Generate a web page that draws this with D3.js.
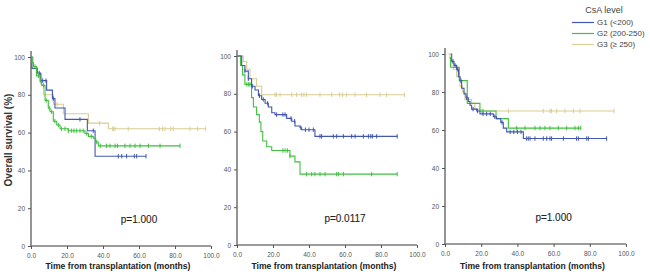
<!DOCTYPE html>
<html>
<head>
<meta charset="utf-8">
<script src="https://cdn.jsdelivr.net/npm/d3@7"></script>
<style>
  body { margin: 0; background: #fff; }
  svg { display: block; font-family: "Liberation Sans", Arial, sans-serif; }
</style>
</head>
<body>
<div id="chart"></div>
<script>
// survival curves: [month, survival %] at each drop
const p1Blue = [[0,100],[0.5,94],[3.5,91.5],[5.4,87.5],[8.7,82.5],[11.9,78],[13.3,73],[18.9,67],[31.3,61],[35.6,47.5],[63.9,47.5]];
const p1Green = [[0,100],[0.6,97],[1.3,95],[3.1,90],[5,87],[5.9,85],[7.8,77],[9.6,73],[10.6,71],[12.4,66],[14.3,64],[16.1,62],[20.7,61],[30,59.5],[31.9,58],[34.6,57],[35.9,55],[37.4,53],[82.8,53]];
const p1Tan = [[0,100],[1.3,95],[3.1,91],[5.9,85],[6.9,80],[12.4,75],[18,70],[31.9,65],[43,62],[97,62]];
const p2Blue = [[0,100],[2.6,95],[4.4,92],[6.3,88],[8.1,84],[10,82],[11.9,79],[13.7,77],[15.6,75],[17.4,73],[19.3,70],[21.1,69],[27.6,67],[30.4,65.5],[32.2,63],[35,62],[35.9,61],[43.3,57.5],[89,57.5]];
const p2Green = [[0,100],[2,95],[3.1,90],[4.4,85],[8.1,78],[9.1,73],[10.9,69],[12.4,65],[13.3,60],[14.3,55],[16.5,52],[19.3,50],[29.4,47],[32.2,44],[35,37.5],[89,37.5]];
const p2Tan = [[0,100],[3.5,97],[5.4,93],[7.2,88],[10.9,84],[13.7,79.5],[93,79.5]];
const p3Blue = [[3.1,100],[3.7,96],[5,94],[6.4,92],[7.4,88],[8.3,86],[9.2,82],[10.5,79],[11.6,77],[12.9,75],[13.8,73],[14.7,71],[17.5,70],[19.3,68.5],[26.7,67],[28.5,66],[30.8,64],[32.2,61],[34.1,59],[43.3,55.5],[89.3,55.5]];
const p3Green = [[2.4,98],[3.1,93],[7.9,86],[12.3,74],[19.3,70],[28.2,66],[35,61],[75,61]];
const p3Tan = [[1.8,100],[2.8,97],[4.6,92],[6.4,88],[8.3,83],[9.7,80],[11,76],[14.7,74],[16.5,71],[19.3,70],[93.4,70]];

// censored observations (months)
const p1BlueCens = [4.6,6.5,8.3,12.4,27.2,34.6,48.5,50.4,53.1,57.4,58.7,63.9];
const p1GreenCens = [2.2,4.2,5.5,7,8.5,10.1,11.5,13.3,15.2,17,18.9,20.7,22.6,23.9,25.4,27.2,29,31,33.5,36.5,38.5,42,43.9,46.7,48,52.2,55,57.8,60.6,65.2,71.7,82.8];
const p1TanCens = [14.5,38,45.4,45.7,46.7,54,71.3,73.1,74.4,77.6,79,88.3,92.6,97];
const p2BlueCens = [4.4,6.3,8.5,12.5,14.6,17,22,25.5,26.7,30,32,35.5,38,40,42.4,46.1,47,53.5,55.4,59.1,63.7,65.6,70.2,73,74.3,75.2,77.6,89];
const p2GreenCens = [5.5,6.5,7.2,25.5,26.7,28,29.4,38.7,41.5,43.3,46.1,48.9,55.4,56.3,59.1,74.8,89];
const p2TanCens = [21.1,22,23.9,30.4,33.1,35.9,37.2,38.7,46.1,52.6,56.9,58.7,60.9,65.6,72,79.4,83.1,93];
const p3BlueCens = [4.4,5.6,7,8.8,12,15.5,18,21,23,25,27.5,31.5,36,38,40,42,45.1,46,47,49.7,54.3,56.2,58,58.9,65.4,72.7,73.7,78.3,79.2,89.3];
const p3GreenCens = [6.5,21,39.6,44.2,49.7,52.5,55.2,58,62.6,67.2,71.8,73.7,75];
const p3TanCens = [20.3,35,54.3,58,58.9,61.7,66.3,70.9,74.6,93.4];

const xTicks = [0, 20, 40, 60, 80, 100];
const yTicks = [0, 20, 40, 60, 80, 100];
const pValues = ["p=1.000", "p=0.0117", "p=1.000"];
const groups = ["G1 (<200)", "G2 (200-250)", "G3 (\u2265 250)"];
const colors = ["#4257ad", "#3fbf3f", "#d8cd92"];

const panels = [
  {x0: 31, x1: 211, y0: 57, y1: 246, curves: [p1Blue, p1Green, p1Tan], cens: [p1BlueCens, p1GreenCens, p1TanCens], order: [2, 0, 1]},
  {x0: 237, x1: 417, y0: 56, y1: 245, curves: [p2Blue, p2Green, p2Tan], cens: [p2BlueCens, p2GreenCens, p2TanCens], order: [2, 1, 0]},
  {x0: 445, x1: 626, y0: 54, y1: 244, curves: [p3Blue, p3Green, p3Tan], cens: [p3BlueCens, p3GreenCens, p3TanCens], order: [2, 1, 0]}
];

const svg = d3.select("#chart").append("svg")
  .attr("width", 650)
  .attr("height", 275);

// survival at time t from step curve
function survAt(curve, t) {
  let s = curve[0][1];
  curve.forEach(d => { if (d[0] <= t) s = d[1]; });
  return s;
}

panels.forEach((p, i) => {
  const x = d3.scaleLinear().domain([0, 100]).range([p.x0, p.x1]);
  const y = d3.scaleLinear().domain([0, 100]).range([p.y1, p.y0]);
  const g = svg.append("g");

  // axes
  const xAxis = g.append("g")
    .attr("transform", `translate(0,${p.y1})`)
    .call(d3.axisBottom(x).tickValues(xTicks).tickSize(3).tickFormat(d3.format(".1f")));
  const yAxis = g.append("g")
    .attr("transform", `translate(${p.x0},0)`)
    .call(d3.axisLeft(y).tickValues(yTicks).tickSize(3).tickFormat(d3.format("d")));
  [xAxis, yAxis].forEach(a => {
    a.select(".domain").attr("stroke", "#7a7a7a").attr("stroke-width", 1.6);
    a.selectAll(".tick line").attr("stroke", "#555");
    a.selectAll(".tick text").attr("fill", "#555").attr("font-size", 6.5);
  });
  xAxis.select(".domain").attr("d", `M${p.x0},0H${p.x1}`);
  xAxis.selectAll(".tick text").attr("dy", "0.9em");
  yAxis.select(".domain").attr("d", `M0,${p.y1}V${p.y0 - 6}`);

  // curves
  const line = d3.line()
    .x(d => x(d[0]))
    .y(d => y(d[1]))
    .curve(d3.curveStepAfter);

  p.order.forEach(k => {
    g.append("path")
      .datum(p.curves[k])
      .attr("fill", "none")
      .attr("stroke", colors[k])
      .attr("stroke-width", 1.1)
      .attr("d", line);

    g.selectAll(null)
      .data(p.cens[k])
      .join("line")
        .attr("x1", d => x(d))
        .attr("x2", d => x(d))
        .attr("y1", d => y(survAt(p.curves[k], d)) - 2.2)
        .attr("y2", d => y(survAt(p.curves[k], d)) + 2.2)
        .attr("stroke", colors[k])
        .attr("stroke-width", 1);
  });

  // x title
  g.append("text")
    .attr("x", (p.x0 + p.x1) / 2 - 3)
    .attr("y", 269)
    .attr("text-anchor", "middle")
    .attr("font-size", 8.6)
    .attr("font-weight", "bold")
    .attr("fill", "#222")
    .text("Time from transplantation (months)");

  // p value
  g.append("text")
    .attr("x", x(60))
    .attr("y", y(12))
    .attr("text-anchor", "middle")
    .attr("font-size", 10)
    .attr("fill", "#222")
    .attr("stroke", "#222")
    .attr("stroke-width", 0.1)
    .text(pValues[i]);
});

// y title
svg.append("text")
  .attr("transform", "translate(12,140) rotate(-90)")
  .attr("text-anchor", "middle")
  .attr("font-size", 10)
  .attr("font-weight", "bold")
  .attr("fill", "#333")
  .text("Overall survival (%)");

// legend
const legend = svg.append("g");
legend.append("text")
  .attr("x", 604)
  .attr("y", 13)
  .attr("text-anchor", "middle")
  .attr("font-size", 9)
  .attr("fill", "#444")
  .text("CsA level");

groups.forEach((name, k) => {
  const ly = 22.5 + k * 11;
  legend.append("line")
    .attr("x1", 572).attr("x2", 594)
    .attr("y1", ly).attr("y2", ly)
    .attr("stroke", colors[k])
    .attr("stroke-width", 1.2);
  legend.append("text")
    .attr("x", 597)
    .attr("y", ly + 2.6)
    .attr("font-size", 8)
    .attr("fill", "#444")
    .text(name);
});
</script>
</body>
</html>
